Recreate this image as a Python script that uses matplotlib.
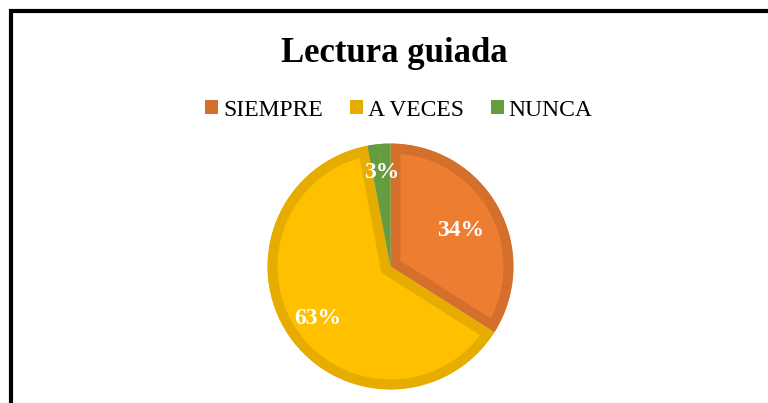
import numpy as np
import matplotlib
matplotlib.use("Agg")
import matplotlib.pyplot as plt
from matplotlib.patches import Patch, Rectangle

# data
categories = ["SIEMPRE", "A VECES", "NUNCA"]
values = [34, 63, 3]
fill_colors = ["#ED7D31", "#FFC000", "#70AD47"]
edge_colors = ["#D5702C", "#E6AC00", "#659C40"]
label_radius = [0.65, 0.71, 0.79]

plt.rcParams["font.family"] = ["Liberation Serif", "DejaVu Serif"]

W, H = 768, 403
fig = plt.figure(figsize=(W / 100, H / 100), dpi=100)
fig.patch.set_facecolor("white")

# pie axes: centre (390.5, 266.5) px, radius 123 px, small margin around it
cx, cy, r = 390.5, 266.5, 123
lim = 1.1
ax = fig.add_axes([(cx - lim * r) / W, (H - cy - lim * r) / H,
                   2 * lim * r / W, 2 * lim * r / H])
wedges, _ = ax.pie(values, colors=fill_colors, startangle=90, counterclock=False,
                   radius=1.0, wedgeprops=dict(linewidth=14.4, joinstyle="miter"))
# outline only on the inside of each slice (clip the stroke to the slice)
for w, ec in zip(wedges, edge_colors):
    w.set_edgecolor(ec)
    w.set_clip_on(True)
    w.set_clip_path(w)

total = sum(values)
start = 90.0
for v, rad in zip(values, label_radius):
    mid = np.deg2rad(start - v / total * 360 / 2)
    start -= v / total * 360
    ax.text(rad * np.cos(mid), rad * np.sin(mid), f"{v}%", ha="center",
            va="center_baseline", color="white", fontsize=17, fontweight="bold")
ax.set_xlim(-lim, lim)
ax.set_ylim(-lim, lim)
ax.set_aspect("equal")
ax.axis("off")

fig.text(394.5 / W, 1 - 62 / H, "Lectura guiada", ha="center", va="baseline",
         fontsize=25, fontweight="bold")

handles = [Patch(facecolor=c, edgecolor="none") for c in edge_colors]
fig.legend(handles, categories, loc="center", bbox_to_anchor=(399 / W, 1 - 110 / H),
           ncol=3, frameon=False, fontsize=17, handlelength=0.55, handleheight=0.55,
           handletextpad=0.2, columnspacing=1.15, borderpad=0)

fig.add_artist(Rectangle((10.5 / W, -0.1), 1.2, 1 - 10.5 / H + 0.1,
                         transform=fig.transFigure, fill=False,
                         edgecolor="black", linewidth=3))

fig.savefig("out.png", dpi=100)
